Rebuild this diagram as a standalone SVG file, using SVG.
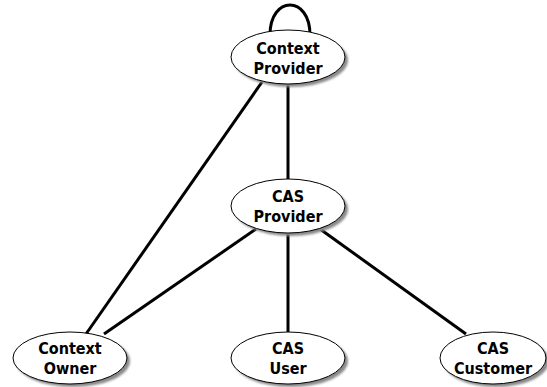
<svg xmlns="http://www.w3.org/2000/svg" width="547" height="387" viewBox="0 0 547 387">
<defs>
<filter id="blur" x="-20%" y="-20%" width="140%" height="140%"><feGaussianBlur stdDeviation="1.2"/></filter>
</defs>
<style>
.sh{fill:#8a8a8a;filter:url(#blur)}
.nd{fill:#ffffff;stroke:#000000;stroke-width:1}
.lb{font-family:"DejaVu Sans Condensed","DejaVu Sans",Tahoma,sans-serif;font-stretch:condensed;font-weight:bold;font-size:16px;text-anchor:middle;fill:#000}
.cn{fill:none;stroke:#000;stroke-width:3;stroke-linecap:butt}
</style>
<rect width="547" height="387" fill="#fff"/>
<g id="connectors">
<path class="cn" d="M270 35 C270 -5 310 -5 310 35"/>
<line class="cn" x1="288" y1="84" x2="288" y2="179"/>
<line class="cn" x1="262" y1="82" x2="86" y2="334"/>
<line class="cn" x1="256" y1="229" x2="104" y2="334"/>
<line class="cn" x1="288" y1="233" x2="288" y2="332"/>
<line class="cn" x1="320" y1="229" x2="466" y2="334"/>
</g>
<g id="context-provider">
<ellipse class="sh" cx="291" cy="60" rx="57" ry="27"/>
<ellipse class="nd" cx="288" cy="57" rx="57" ry="27"/>
<text class="lb" x="288" y="54">Context</text>
<text class="lb" x="288" y="74">Provider</text>
</g>
<g id="cas-provider">
<ellipse class="sh" cx="291" cy="209" rx="57" ry="27"/>
<ellipse class="nd" cx="288" cy="206" rx="57" ry="27"/>
<text class="lb" x="288" y="202">CAS</text>
<text class="lb" x="288" y="222">Provider</text>
</g>
<g id="context-owner">
<ellipse class="sh" cx="73" cy="361" rx="57" ry="26"/>
<ellipse class="nd" cx="70" cy="358" rx="57" ry="26"/>
<text class="lb" x="70" y="354">Context</text>
<text class="lb" x="70" y="374">Owner</text>
</g>
<g id="cas-user">
<ellipse class="sh" cx="291" cy="361" rx="57" ry="26"/>
<ellipse class="nd" cx="288" cy="358" rx="57" ry="26"/>
<text class="lb" x="288" y="354">CAS</text>
<text class="lb" x="288" y="374">User</text>
</g>
<g id="cas-customer">
<ellipse class="sh" cx="496" cy="361" rx="53" ry="26"/>
<ellipse class="nd" cx="493" cy="358" rx="53" ry="26"/>
<text class="lb" x="493" y="354">CAS</text>
<text class="lb" x="493" y="374">Customer</text>
</g>
</svg>
